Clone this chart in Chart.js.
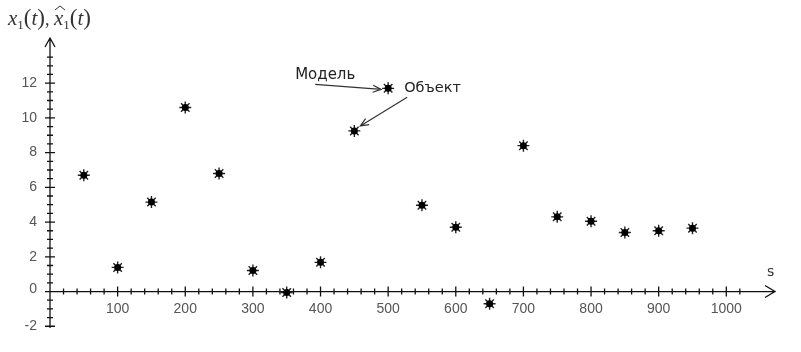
<!DOCTYPE html>
<html>
<head>
<meta charset="utf-8">
<script src="https://cdn.jsdelivr.net/npm/chart.js@4"></script>
<style>
  html, body { margin: 0; padding: 0; background: #fff; }
  #wrap { width: 801px; height: 352px; }
</style>
</head>
<body>
<div id="wrap"><canvas id="chart" width="801" height="352"></canvas></div>
<script>
// time steps s
const steps = [50, 100, 150, 200, 250, 300, 350, 400, 450, 500, 550, 600, 650, 700, 750, 800, 850, 900, 950];
// object x1(t)
const objectVals = [6.7, 1.39, 5.15, 10.6, 6.8, 1.21, -0.06, 1.68, 9.25, 11.7, 4.97, 3.7, -0.7, 8.4, 4.3, 4.05, 3.4, 3.5, 3.65];
// model x^1(t)
const modelVals = [6.7, 1.39, 5.15, 10.6, 6.8, 1.21, -0.06, 1.68, 9.25, 11.7, 4.97, 3.7, -0.7, 8.4, 4.3, 4.05, 3.4, 3.5, 3.65];
const xTickLabels = [100, 200, 300, 400, 500, 600, 700, 800, 900, 1000];
const yTickLabels = [-2, 0, 2, 4, 6, 8, 10, 12];

const toPts = vals => steps.map((s, i) => ({ x: s, y: vals[i] }));

// axes with ticks crossing the line, arrows and labels
const axesPlugin = {
  id: 'crossAxes',
  beforeDatasetsDraw(chart) {
    const ctx = chart.ctx;
    const xs = chart.scales.x, ys = chart.scales.y;
    const x0 = xs.getPixelForValue(0), y0 = ys.getPixelForValue(0);
    const left = x0 - 5, right = xs.right, top = ys.top, bottom = ys.bottom;
    ctx.save();
    ctx.strokeStyle = '#111';
    ctx.lineWidth = 1.3;
    ctx.beginPath();
    ctx.moveTo(left, y0); ctx.lineTo(right, y0);
    ctx.moveTo(x0, bottom); ctx.lineTo(x0, top);
    // arrows
    ctx.moveTo(right - 10, y0 - 6); ctx.lineTo(right, y0); ctx.lineTo(right - 10, y0 + 6);
    ctx.moveTo(x0 - 5, top + 9); ctx.lineTo(x0, top); ctx.lineTo(x0 + 5, top + 9);
    ctx.stroke();

    // x ticks
    ctx.beginPath();
    for (let v = 20; v <= 1020; v += 20) {
      const px = xs.getPixelForValue(v);
      const len = v % 100 === 0 ? 5 : 3;
      ctx.moveTo(px, y0 - len); ctx.lineTo(px, y0 + len);
    }
    // y ticks
    for (let v = -2; v <= 13.5; v += 0.5) {
      if (v === 0) continue;
      const py = ys.getPixelForValue(v);
      const len = v % 2 === 0 ? 5 : 3;
      ctx.moveTo(x0 - len, py); ctx.lineTo(x0 + len, py);
    }
    ctx.stroke();

    ctx.fillStyle = '#555';
    ctx.font = '14px "Liberation Sans", sans-serif';
    ctx.textAlign = 'center';
    ctx.textBaseline = 'middle';
    xTickLabels.forEach(v => ctx.fillText(String(v), xs.getPixelForValue(v), y0 + 18));
    ctx.textAlign = 'right';
    yTickLabels.forEach(v => ctx.fillText(String(v), x0 - 13, ys.getPixelForValue(v) + (v === 0 ? -2 : 0)));

    // axis names
    ctx.fillStyle = '#333';
    ctx.textAlign = 'left';
    ctx.font = '14px "DejaVu Sans", sans-serif';
    ctx.fillText('s', right - 8, y0 - 19);

    ctx.textBaseline = 'alphabetic';
    const serif = '"Liberation Serif", serif';
    let tx = 8;
    const ty = 25;
    const part = (txt, font, dy = 0) => {
      ctx.font = font;
      ctx.fillText(txt, tx, ty + dy);
      tx += ctx.measureText(txt).width;
    };
    part('x', 'italic 21px ' + serif);
    part('1', '13px ' + serif, 4);
    part('(', '23px ' + serif);
    part('t', 'italic 21px ' + serif);
    part(')', '23px ' + serif);
    part(', ', '18px ' + serif);
    const hatX = tx;
    part('x', 'italic 21px ' + serif);
    // wide hat over x
    ctx.strokeStyle = '#333';
    ctx.lineWidth = 1;
    ctx.beginPath();
    ctx.moveTo(hatX + 1, ty - 15); ctx.lineTo(hatX + 6, ty - 19); ctx.lineTo(hatX + 11, ty - 15);
    ctx.stroke();
    part('1', '13px ' + serif, 4);
    part('(', '23px ' + serif);
    part('t', 'italic 21px ' + serif);
    part(')', '23px ' + serif);
    ctx.restore();
  },
  afterDatasetsDraw(chart) {
    const ctx = chart.ctx;
    const xs = chart.scales.x, ys = chart.scales.y;
    const mx = xs.getPixelForValue(steps[9]), my = ys.getPixelForValue(modelVals[9]);
    const ox = xs.getPixelForValue(steps[8]), oy = ys.getPixelForValue(objectVals[8]);
    ctx.save();
    ctx.fillStyle = '#222';
    ctx.font = '15px "DejaVu Sans", sans-serif';
    ctx.textBaseline = 'alphabetic';
    ctx.textAlign = 'left';
    ctx.fillText('Модель', mx - 93, my - 9);
    ctx.font = '14.5px "DejaVu Sans", sans-serif';
    ctx.fillText('Объект', mx + 16, my + 4);
    const arrow = (x1, y1, x2, y2) => {
      const a = Math.atan2(y2 - y1, x2 - x1);
      ctx.beginPath();
      ctx.moveTo(x1, y1); ctx.lineTo(x2, y2);
      ctx.moveTo(x2 - 9 * Math.cos(a - 0.4), y2 - 9 * Math.sin(a - 0.4));
      ctx.lineTo(x2, y2);
      ctx.lineTo(x2 - 9 * Math.cos(a + 0.4), y2 - 9 * Math.sin(a + 0.4));
      ctx.stroke();
    };
    ctx.strokeStyle = '#333';
    ctx.lineWidth = 1.2;
    arrow(mx - 73, my - 4, mx - 7, my + 1);
    arrow(mx + 19, my + 9, ox + 6, oy - 5);
    ctx.restore();
  }
};

new Chart(document.getElementById('chart'), {
  type: 'scatter',
  data: {
    datasets: [
      {
        label: 'Объект',
        data: toPts(objectVals),
        pointStyle: 'circle',
        pointRadius: 3.5,
        backgroundColor: '#000',
        borderColor: '#000',
        borderWidth: 0
      },
      {
        label: 'Модель',
        data: toPts(modelVals),
        pointStyle: 'star',
        pointRadius: 6,
        backgroundColor: '#000',
        borderColor: '#222',
        borderWidth: 1.4
      }
    ]
  },
  options: {
    responsive: false,
    animation: false,
    layout: { padding: { left: 50, right: 26, top: 38, bottom: 24 } },
    plugins: { legend: { display: false }, tooltip: { enabled: false } },
    scales: {
      x: { type: 'linear', min: 0, max: 1072, display: false },
      y: { type: 'linear', min: -2.1, max: 14.6, display: false }
    }
  },
  plugins: [axesPlugin]
});
</script>
</body>
</html>
